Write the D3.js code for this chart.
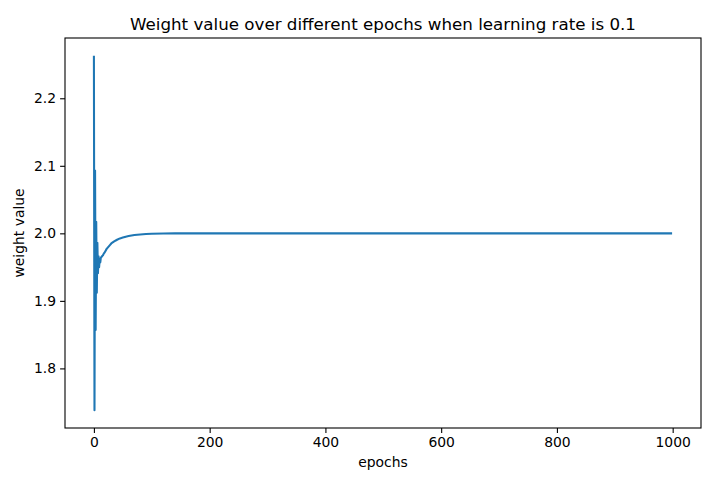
<!DOCTYPE html>
<html>
<head>
<meta charset="utf-8">
<script src="https://cdn.jsdelivr.net/npm/d3@7"></script>
<style>
  html, body { margin: 0; padding: 0; background: #fff; }
  svg { display: block; font-family: "DejaVu Sans", sans-serif; }
</style>
</head>
<body>
<svg id="chart" width="723" height="480"></svg>
<script>
// ---- data ----
const epochs = [0,1,2,3,4,5,6,7,8,9,10,11,12,13,14,15,16,17,18,20,22,25,28,30,35,40,45,50,55,60,70,80,90,100,120,140,160,200,300,400,500,600,700,800,900,999];
const weights = [2.263,1.738,2.093,1.857,2.017,1.912,1.986,1.941,1.966,1.950,1.962,1.957,1.964,1.965,1.966,1.967,1.968,1.970,1.971,1.974,1.977,1.980,1.983,1.985,1.988,1.9905,1.9925,1.9937,1.995,1.996,1.9975,1.9984,1.999,1.9993,1.9997,1.9999,1.99995,2.0,2.0,2.0,2.0,2.0,2.0,2.0,2.0,2.0];
const xTicks = [0,200,400,600,800,1000];
const yTicks = [1.8,1.9,2.0,2.1,2.2];
const titleText = "Weight value over different epochs when learning rate is 0.1";
const xLabel = "epochs";
const yLabel = "weight value";

// ---- layout ----
const svg = d3.select("#chart");
const L = 65, R = 701, T = 38, B = 428;

const xExt = d3.extent(epochs), yExt = d3.extent(weights);
const xPad = (xExt[1]-xExt[0])*0.05, yPad = (yExt[1]-yExt[0])*0.05;
const x = d3.scaleLinear().domain([xExt[0]-xPad, xExt[1]+xPad]).range([L, R]);
const y = d3.scaleLinear().domain([yExt[0]-yPad, yExt[1]+yPad]).range([B, T]);

const data = epochs.map((e,i) => ({e, w: weights[i]}));

const line = d3.line().x(d => x(d.e)).y(d => y(d.w)).curve(d3.curveLinear);

svg.append("path")
  .datum(data)
  .attr("d", line)
  .attr("fill", "none")
  .attr("stroke", "#1f77b4")
  .attr("stroke-width", 2.08)
  .attr("stroke-linejoin", "round")
  .attr("stroke-linecap", "butt");

// axes
const xAxis = d3.axisBottom(x).tickValues(xTicks).tickSize(4.9).tickPadding(4).tickFormat(d3.format("d"));
const yAxis = d3.axisLeft(y).tickValues(yTicks).tickSize(4.9).tickPadding(4).tickFormat(d3.format(".1f"));

const gx = svg.append("g").attr("transform", `translate(0,${B})`).call(xAxis);
const gy = svg.append("g").attr("transform", `translate(${L},0)`).call(yAxis);
[gx, gy].forEach(g => {
  g.select(".domain").remove();
  g.selectAll(".tick line").attr("stroke", "#000").attr("stroke-width", 1.1);
  g.selectAll(".tick text").attr("fill", "#000").style("font-size", "13.9px").style("font-family", "DejaVu Sans, sans-serif");
});
gx.selectAll(".tick text").attr("dy", "0.71em");

// frame
svg.append("rect")
  .attr("x", L).attr("y", T).attr("width", R-L).attr("height", B-T)
  .attr("fill", "none").attr("stroke", "#000").attr("stroke-width", 1.1);

// labels
svg.append("text").attr("x", (L+R)/2).attr("y", 30)
  .attr("text-anchor", "middle").style("font-size", "16.7px").attr("fill", "#000")
  .text(titleText);
svg.append("text").attr("x", (L+R)/2).attr("y", 467)
  .attr("text-anchor", "middle").style("font-size", "13.9px").attr("fill", "#000")
  .text(xLabel);
svg.append("text").attr("transform", `translate(24,${(T+B)/2}) rotate(-90)`)
  .attr("text-anchor", "middle").style("font-size", "13.9px").attr("fill", "#000")
  .text(yLabel);
</script>
</body>
</html>
